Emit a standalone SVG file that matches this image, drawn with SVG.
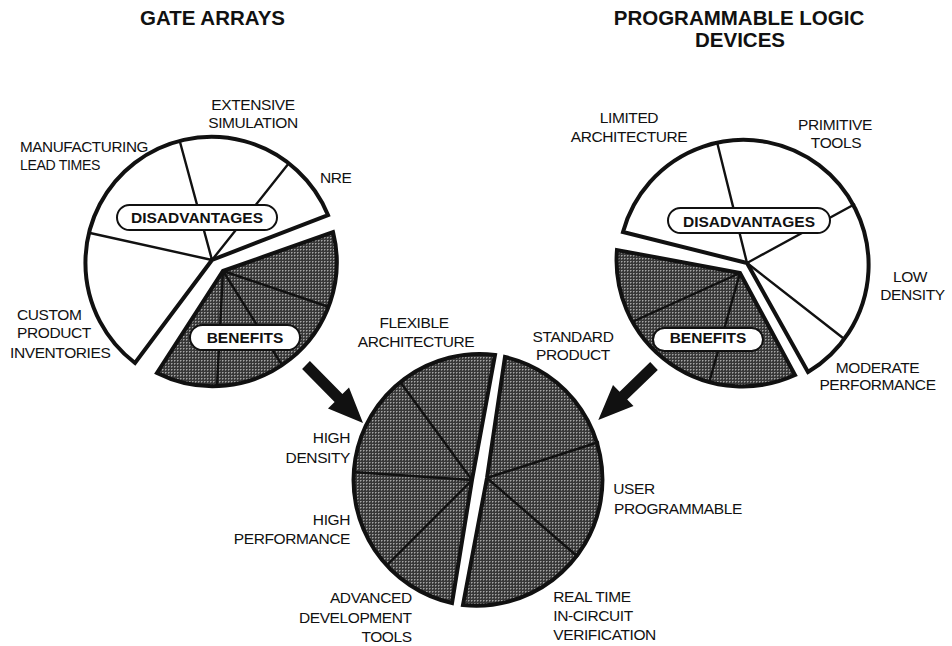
<svg xmlns="http://www.w3.org/2000/svg" width="952" height="646" viewBox="0 0 952 646">
  <defs>
    <!-- halftone screen used for the shaded benefit wedges -->
    <pattern id="screen" width="3" height="3" patternUnits="userSpaceOnUse">
      <rect width="3" height="3" fill="#383838"/>
      <rect x="0" y="0" width="1" height="1" fill="#a4a4a4"/>
      <rect x="1" y="0" width="1" height="1" fill="#747474"/>
      <rect x="0" y="1" width="1" height="1" fill="#747474"/>
    </pattern>
    <style>
      .title { font-family: "Liberation Sans", Arial, sans-serif; font-weight: bold; font-size: 20.5px; fill: #111; }
      .lbl { font-family: "Liberation Sans", Arial, sans-serif; font-size: 15.5px; letter-spacing: -0.4px; fill: #111; }
      .tag { font-family: "Liberation Sans", Arial, sans-serif; font-weight: bold; font-size: 15.5px; fill: #111; }
      .c { text-anchor: middle; }
      .e { text-anchor: end; }
      .rim { stroke: #111; stroke-width: 4; stroke-linejoin: miter; }
      .open { fill: #fff; }
      .shade { fill: url(#screen); }
      .div { stroke: #111; stroke-width: 2.4; fill: none; stroke-linecap: butt; }
      .pill { fill: #fff; stroke: #111; stroke-width: 2; }
      .arrow { fill: #111; }
    </style>
  </defs>

  <rect width="952" height="646" fill="#fff"/>

  <!-- column headings -->
  <g id="heading-gate-arrays">
    <text class="title c" x="212.5" y="25">GATE ARRAYS</text>
  </g>
  <g id="heading-pld">
    <text class="title c" x="739" y="25">PROGRAMMABLE LOGIC</text>
    <text class="title c" x="740" y="46.5">DEVICES</text>
  </g>

  <!-- gate array pie: disadvantages -->
  <g id="ga-disadvantages">
    <path class="rim open" d="M212,260 L328,215 A126,126 0 1 0 135,363 Z"/>
    <path class="div" d="M212,260 L180,142 M212,260 L289,163 M212,260 L90,233"/>
    <rect class="pill" x="117" y="205" width="160" height="25" rx="12.5"/>
    <text class="tag c" x="197" y="223.3">DISADVANTAGES</text>
    <text class="lbl c" x="253" y="110">EXTENSIVE</text>
    <text class="lbl c" x="253" y="128.3">SIMULATION</text>
    <text class="lbl" x="20" y="151.7" textLength="128" lengthAdjust="spacingAndGlyphs">MANUFACTURING</text>
    <text class="lbl" x="20" y="170" textLength="80" lengthAdjust="spacingAndGlyphs">LEAD TIMES</text>
    <text class="lbl" x="320" y="183.3">NRE</text>
    <text class="lbl" x="17" y="320">CUSTOM</text>
    <text class="lbl" x="17" y="338.3">PRODUCT</text>
    <text class="lbl" x="10" y="358.3">INVENTORIES</text>
  </g>

  <!-- gate array pie: benefits -->
  <g id="ga-benefits">
    <path class="rim shade" d="M223,271 L333,232 A124,124 0 0 1 157,373 Z"/>
    <path class="div" d="M223,271 L329,307 M223,271 L282,365 M223,271 L217,386"/>
    <rect class="pill" x="190" y="325" width="110" height="25" rx="12.5"/>
    <text class="tag c" x="245" y="343.3">BENEFITS</text>
  </g>

  <!-- programmable logic pie: disadvantages -->
  <g id="pld-disadvantages">
    <path class="rim open" d="M747,263 L623,232 A125,125 0 1 1 808,372 Z"/>
    <path class="div" d="M747,263 L717,142 M747,263 L855,204 M747,263 L843,338"/>
    <rect class="pill" x="668" y="208" width="162" height="25" rx="12.5"/>
    <text class="tag c" x="749" y="226.7">DISADVANTAGES</text>
    <text class="lbl c" x="629" y="123.3">LIMITED</text>
    <text class="lbl c" x="629" y="141.7">ARCHITECTURE</text>
    <text class="lbl c" x="835" y="130">PRIMITIVE</text>
    <text class="lbl c" x="836" y="148.3">TOOLS</text>
    <text class="lbl c" x="910" y="281.7">LOW</text>
    <text class="lbl c" x="912.5" y="300">DENSITY</text>
    <text class="lbl c" x="877.5" y="373.3">MODERATE</text>
    <text class="lbl c" x="877.5" y="390">PERFORMANCE</text>
  </g>

  <!-- programmable logic pie: benefits -->
  <g id="pld-benefits">
    <path class="rim shade" d="M740,273 L617,250 A126,126 0 0 0 795,375 Z"/>
    <path class="div" d="M740,273 L632,322 M740,273 L709,383"/>
    <rect class="pill" x="653" y="328" width="110" height="23" rx="11.5"/>
    <text class="tag c" x="708" y="343.3">BENEFITS</text>
  </g>

  <!-- combined pie: gate array half -->
  <g id="combined-gate-array-half">
    <path class="rim shade" d="M472,480 L495,355 A126,126 0 0 0 452,603 Z"/>
    <path class="div" d="M472,480 L401,383 M472,480 L353,472 M472,480 L387,565"/>
    <text class="lbl c" x="414" y="328.3">FLEXIBLE</text>
    <text class="lbl c" x="416" y="346.7">ARCHITECTURE</text>
    <text class="lbl e" x="350" y="442.7">HIGH</text>
    <text class="lbl e" x="350" y="462.7">DENSITY</text>
    <text class="lbl e" x="350" y="525">HIGH</text>
    <text class="lbl e" x="350" y="544.3">PERFORMANCE</text>
    <text class="lbl e" x="411.7" y="603.3">ADVANCED</text>
    <text class="lbl e" x="411.7" y="623.3">DEVELOPMENT</text>
    <text class="lbl e" x="411.7" y="641.7">TOOLS</text>
  </g>

  <!-- combined pie: programmable logic half -->
  <g id="combined-pld-half">
    <path class="rim shade" d="M487,478 L505,357 A126,126 0 0 1 463,605 Z"/>
    <path class="div" d="M487,478 L599,442 M487,478 L578,557"/>
    <text class="lbl c" x="573" y="341.7">STANDARD</text>
    <text class="lbl c" x="573" y="360">PRODUCT</text>
    <text class="lbl" x="613.3" y="494">USER</text>
    <text class="lbl" x="614" y="514">PROGRAMMABLE</text>
    <text class="lbl" x="553.3" y="601.7">REAL TIME</text>
    <text class="lbl" x="553.3" y="620.7">IN-CIRCUIT</text>
    <text class="lbl" x="553.3" y="640">VERIFICATION</text>
  </g>

  <!-- arrows feeding the benefits into the combined pie -->
  <g id="connectors">
    <polygon class="arrow" points="309.9,361.1 342.4,394.1 349,387.5 363,423 328,408.5 334.6,401.9 302.1,368.9"/>
    <polygon class="arrow" points="650.2,362.1 619.6,391.7 613,385 598.3,420 633.5,406 627.2,399.5 657.8,369.9"/>
  </g>
</svg>
